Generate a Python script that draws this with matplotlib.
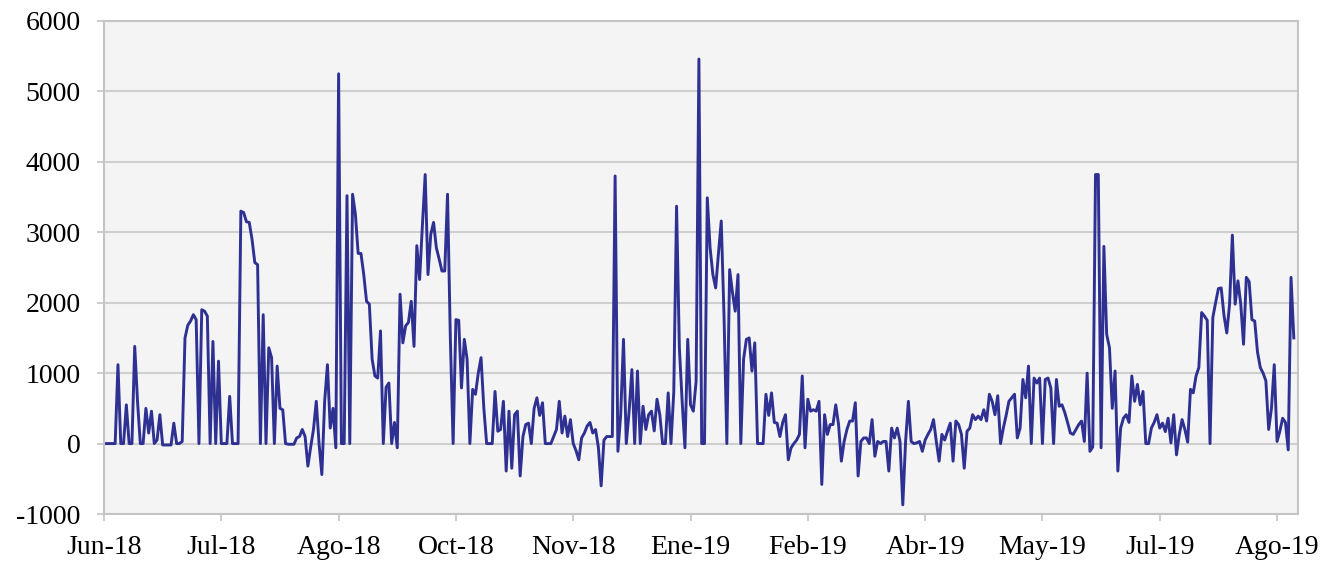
"""Daily series Jun-18 .. Ago-19, Excel-style line chart."""
import matplotlib
matplotlib.use("Agg")
import matplotlib.pyplot as plt
import numpy as np

# daily values, one list per ~6-week block (42 days each)
seg_jun18 = [0, 0, 0, 0, 0, 1120, 0, 0, 550, 0, 0, 1380, 600, 0, 0, 500, 150, 460, 0, 50,
             410, -20, -20, -20, -20, 290, 0, 0, 30, 1500, 1680, 1740, 1830, 1760, 0, 1900,
             1880, 1810, 0, 1450, 0, 1170]
seg_jul18 = [0, 0, 0, 670, 0, 0, 0, 3300, 3280, 3150, 3140, 2900, 2570, 2540, 0, 1830, 0,
             1360, 1220, 0, 1100, 500, 480, 0, -10, -10, -10, 80, 100, 200, 100, -320, -50,
             200, 600, 0, -440, 600, 1120, 220, 500, -60]
seg_ago18 = [5250, 0, 0, 3520, 0, 3540, 3260, 2700, 2700, 2400, 2020, 1980, 1200, 960, 930,
             1600, 0, 800, 860, 0, 300, -60, 2120, 1430, 1670, 1720, 2020, 1380, 2810, 2330,
             3100, 3820, 2400, 2970, 3140, 2780, 2620, 2450, 2450, 3540, 1500, 0]
seg_oct18 = [1760, 1750, 790, 1480, 1200, 0, 770, 700, 1000, 1220, 500, 0, 0, 0, 740, 175,
             200, 600, -390, 460, -350, 410, 460, -460, 100, 270, 290, 0, 500, 650, 400, 580,
             0, 0, 0, 100, 200, 600, 150, 390, 100, 340]
seg_nov18 = [0, -100, -230, 80, 150, 250, 300, 150, 200, -50, -600, 50, 100, 100, 100, 3800,
             -110, 410, 1480, 0, 450, 1050, 0, 1030, 0, 530, 200, 410, 460, 180, 630, 410, 0,
             0, 720, 0, 730, 3370, 1360, 600, -60, 1480]
seg_ene19 = [550, 460, 880, 5460, 0, 0, 3490, 2780, 2400, 2210, 2700, 3160, 1800, 0, 2470,
             2150, 1880, 2400, 0, 1200, 1480, 1500, 1030, 1430, 0, 0, 0, 700, 400, 720, 300,
             290, 100, 300, 410, -230, -60, 0, 50, 130, 960, -60]
seg_feb19 = [630, 460, 480, 460, 600, -580, 410, 130, 270, 270, 550, 270, -250, 30, 200, 320,
             320, 580, -460, 30, 80, 80, 0, 340, -180, 30, 0, 30, 30, -390, 220, 80, 220, 30,
             -870, 30, 600, 30, 0, 10, 30, -110]
seg_abr19 = [50, 130, 200, 340, 30, -250, 130, 50, 175, 290, -250, 320, 270, 130, -350, 175,
             220, 410, 340, 390, 340, 480, 320, 700, 600, 410, 680, 0, 220, 400, 600, 650, 700,
             80, 220, 910, 650, 1100, 0, 930, 860, 930]
seg_may19 = [0, 910, 930, 790, 0, 910, 530, 550, 440, 300, 150, 130, 200, 270, 320, 30, 1000,
             -110, -50, 3820, 3820, -60, 2800, 1550, 1360, 500, 1030, -390, 220, 360, 410, 300,
             960, 600, 840, 550, 740, 0, 0, 220, 300, 410]
seg_jul19 = [220, 290, 170, 360, 10, 410, -160, 130, 340, 200, 20, 770, 720, 960, 1080, 1860,
             1810, 1750, 0, 1790, 2000, 2200, 2210, 1820, 1570, 1980, 2960, 1980, 2310, 1980,
             1410, 2360, 2300, 1760, 1740, 1300, 1080, 1000, 890, 200, 500, 1120, 30, 175, 360,
             300, -90, 2360, 1500]

tick_labels = ["Jun-18", "Jul-18", "Ago-18", "Oct-18", "Nov-18", "Ene-19",
               "Feb-19", "Abr-19", "May-19", "Jul-19", "Ago-19"]
tick_step = 42

values = np.array(seg_jun18 + seg_jul18 + seg_ago18 + seg_oct18 + seg_nov18 + seg_ene19
                  + seg_feb19 + seg_abr19 + seg_may19 + seg_jul19, dtype=float)
days = np.arange(len(values))

plt.rcParams["font.family"] = ["Liberation Serif", "DejaVu Serif"]
plt.rcParams["axes.unicode_minus"] = False

fig = plt.figure(figsize=(13.39, 5.64), dpi=100)
fig.patch.set_facecolor("white")
ax = fig.add_axes([104 / 1339, 1 - 514 / 564, (1298 - 104) / 1339, (514 - 21) / 564])
ax.set_facecolor("#f4f4f4")

ax.plot(days, values, color="#2e3192", linewidth=2.1, solid_joinstyle="round")

ax.set_ylim(-1000, 6000)
ax.set_yticks(np.arange(-1000, 6001, 1000))
ax.set_xlim(0, 427.5)
ax.set_xticks(np.arange(0, tick_step * len(tick_labels), tick_step))
ax.set_xticklabels(tick_labels)

ax.grid(axis="y", color="#cfcfcf", linewidth=1.5)
ax.set_axisbelow(True)
for spine in ax.spines.values():
    spine.set_color("#c4c4c4")
    spine.set_linewidth(1.5)

ax.tick_params(axis="y", length=5, width=1.2, color="#c4c4c4", pad=12, labelsize=20)
ax.tick_params(axis="x", length=5, width=1.2, color="#c4c4c4", pad=10, labelsize=20)

fig.savefig("out.png", dpi=100)
